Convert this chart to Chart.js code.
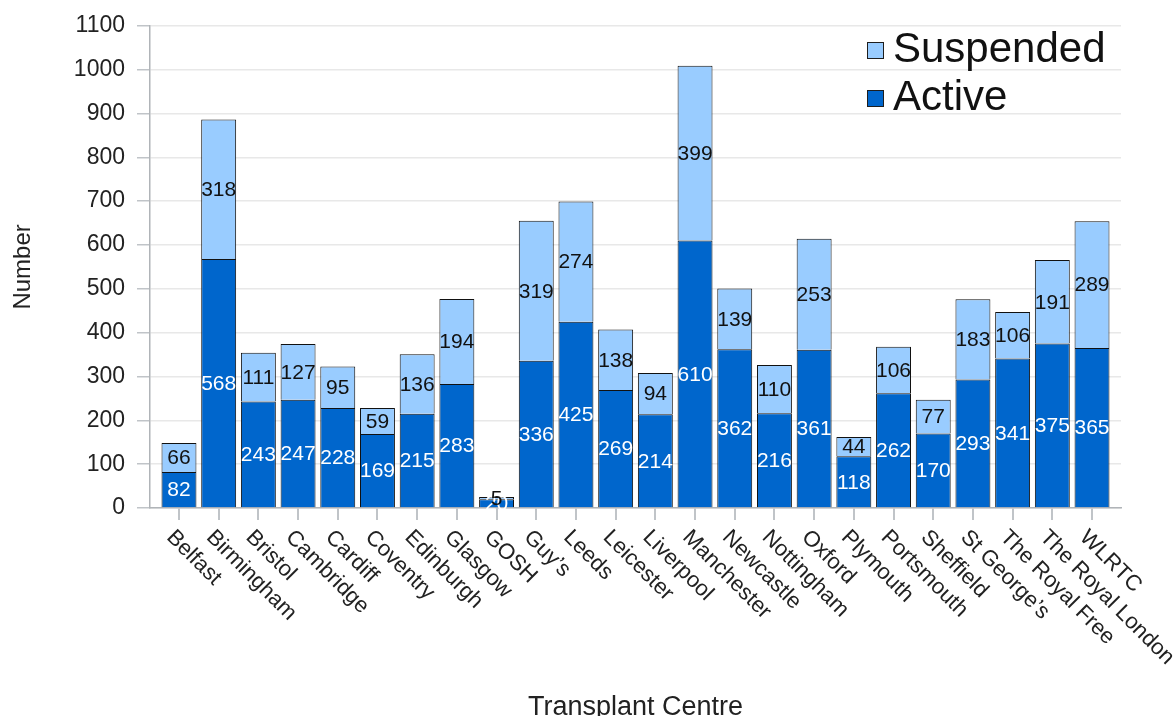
<!DOCTYPE html>
<html>
<head>
<meta charset="utf-8">
<script src="https://cdn.jsdelivr.net/npm/chart.js@4.4.1/dist/chart.umd.min.js"></script>
<style>
  html, body { margin: 0; padding: 0; background: #fff; }
  #wrap { width: 1175px; height: 716px; }
</style>
</head>
<body>
<div id="wrap"><canvas id="chart"></canvas></div>
<script>
// transplant centres, left to right
const centres = ['Belfast', 'Birmingham', 'Bristol', 'Cambridge', 'Cardiff', 'Coventry',
  'Edinburgh', 'Glasgow', 'GOSH', 'Guy\u2019s', 'Leeds', 'Leicester', 'Liverpool',
  'Manchester', 'Newcastle', 'Nottingham', 'Oxford', 'Plymouth', 'Portsmouth',
  'Sheffield', 'St George\u2019s', 'The Royal Free', 'The Royal London', 'WLRTC'];

const active = [82, 568, 243, 247, 228, 169, 215, 283, 20, 336, 425, 269, 214,
  610, 362, 216, 361, 118, 262, 170, 293, 341, 375, 365];

const suspended = [66, 318, 111, 127, 95, 59, 136, 194, 5, 319, 274, 138, 94,
  399, 139, 110, 253, 44, 106, 77, 183, 106, 191, 289];

const yTicks = [0, 100, 200, 300, 400, 500, 600, 700, 800, 900, 1000, 1100];

const FONT = '"Liberation Sans", Arial, sans-serif';

function points(values) {
  return values.map((v, i) => ({ x: i, y: v }));
}

// numbers inside each bar segment
const segmentLabels = {
  id: 'segmentLabels',
  afterDatasetsDraw(chart) {
    const ctx = chart.ctx;
    ctx.save();
    ctx.font = '21px ' + FONT;
    ctx.textAlign = 'center';
    ctx.textBaseline = 'middle';
    chart.data.datasets.forEach((ds, d) => {
      const meta = chart.getDatasetMeta(d);
      ctx.fillStyle = ds.labelColor;
      meta.data.forEach((bar, i) => {
        const mid = (bar.y + bar.base) / 2;
        ctx.fillText(String(ds.data[i].y), bar.x, mid + 1);
      });
    });
    ctx.restore();
  }
};

// slanted category names, hanging down to the right from each tick
const slantedTicks = {
  id: 'slantedTicks',
  afterDraw(chart) {
    const ctx = chart.ctx;
    const xs = chart.scales.x;
    ctx.save();
    ctx.font = '22px ' + FONT;
    ctx.fillStyle = '#222';
    ctx.textAlign = 'left';
    ctx.textBaseline = 'middle';
    centres.forEach((name, i) => {
      const x = xs.getPixelForValue(i);
      ctx.save();
      ctx.translate(x - 9, xs.top + 26);
      ctx.rotate(Math.PI / 4);
      ctx.fillText(name, 0, 0);
      ctx.restore();
    });
    ctx.restore();
  }
};

// legend in the top right of the plot, Suspended above Active
const cornerLegend = {
  id: 'cornerLegend',
  afterDraw(chart) {
    const ctx = chart.ctx;
    const items = chart.data.datasets.slice().reverse();
    ctx.save();
    ctx.font = '42px ' + FONT;
    ctx.textBaseline = 'middle';
    ctx.textAlign = 'left';
    items.forEach((ds, k) => {
      const cy = 50 + k * 48;
      ctx.fillStyle = ds.backgroundColor;
      ctx.fillRect(867, cy - 8, 17, 17);
      ctx.strokeStyle = '#1e1e1e';
      ctx.lineWidth = 1;
      ctx.strokeRect(867.5, cy - 7.5, 16, 16);
      ctx.fillStyle = '#111';
      ctx.fillText(ds.label, 893, cy);
    });
    ctx.restore();
  }
};

new Chart(document.getElementById('chart'), {
  type: 'bar',
  data: {
    datasets: [{
      label: 'Active',
      data: points(active),
      backgroundColor: '#0066cc',
      borderColor: '#111111',
      borderWidth: 1,
      labelColor: '#ffffff'
    }, {
      label: 'Suspended',
      data: points(suspended),
      backgroundColor: '#99ccff',
      borderColor: '#111111',
      borderWidth: 1,
      labelColor: '#111111'
    }]
  },
  options: {
    responsive: true,
    maintainAspectRatio: false,
    animation: false,
    layout: { padding: { top: 21, right: 54, left: 0, bottom: 0 } },
    datasets: { bar: { barPercentage: 0.88, categoryPercentage: 1 } },
    plugins: {
      legend: { display: false },
      tooltip: { enabled: false }
    },
    scales: {
      x: {
        type: 'linear',
        stacked: true,
        offset: false,
        min: -0.73,
        max: 23.73,
        afterBuildTicks: s => { s.ticks = centres.map((c, i) => ({ value: i })); },
        afterFit: s => { s.height = 208; },
        ticks: { display: true, autoSkip: false, maxRotation: 0, callback: () => '' },
        grid: { offset: false, drawOnChartArea: false, tickLength: 12, tickColor: '#c0c4c8', lineWidth: 2 },
        border: { color: '#b0b4b8', width: 1.5 },
        title: {
          display: true,
          text: 'Transplant Centre',
          color: '#222',
          font: { family: FONT, size: 27, lineHeight: 0.6 },
          padding: 0
        }
      },
      y: {
        stacked: true,
        min: 0,
        max: 1100,
        afterBuildTicks: s => { s.ticks = yTicks.map(v => ({ value: v })); },
        afterFit: s => { s.width = 150; },
        ticks: {
          color: '#222',
          padding: 12,
          font: { family: FONT, size: 23 },
          callback: v => String(v)
        },
        grid: { color: '#e8e8e8', tickColor: '#c0c4c8', tickLength: 13, lineWidth: 1.5 },
        border: { color: '#b0b4b8', width: 1.5 },
        title: {
          display: true,
          text: 'Number',
          color: '#222',
          font: { family: FONT, size: 24, lineHeight: 1.2 },
          padding: { top: 9 }
        }
      }
    }
  },
  plugins: [segmentLabels, slantedTicks, cornerLegend]
});
</script>
</body>
</html>
